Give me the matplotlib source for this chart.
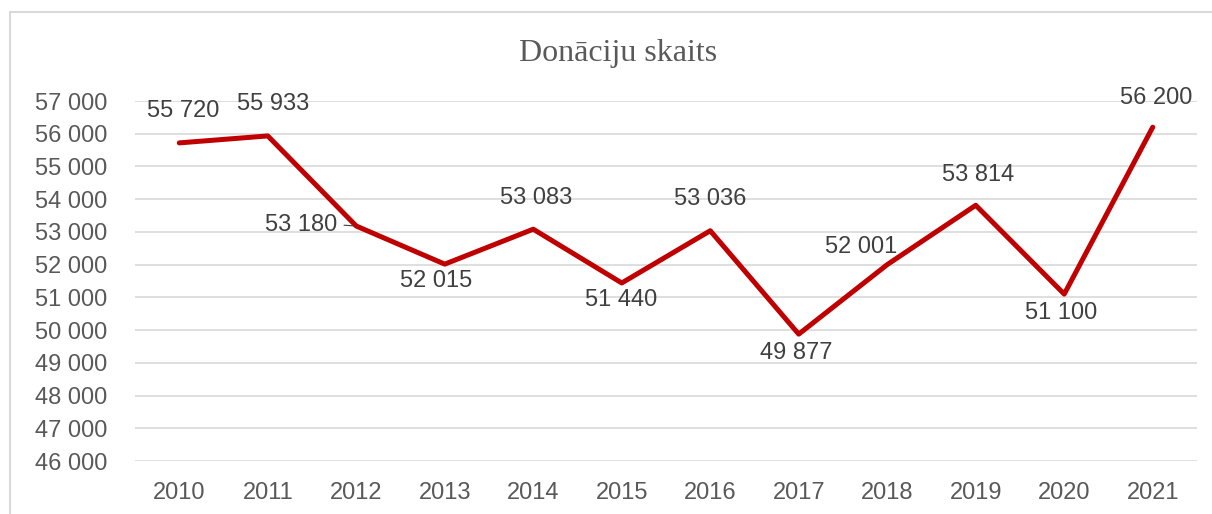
import matplotlib.pyplot as plt
import matplotlib.ticker as mticker
from matplotlib.patches import Rectangle

# data
years = ["2010", "2011", "2012", "2013", "2014", "2015",
         "2016", "2017", "2018", "2019", "2020", "2021"]
donations = [55720, 55933, 53180, 52015, 53083, 51440,
             53036, 49877, 52001, 53814, 51100, 56200]

# label offsets (pixels) from each point
label_offsets = [(4, 32), (5, 32), (-55, 1), (-9, -17), (3, 31), (-1, -17),
                 (0, 32), (-2, -19), (-26, 18), (2, 30), (-3, -19), (3, 29)]

plt.rcParams["font.family"] = ["Liberation Sans", "DejaVu Sans"]

fig = plt.figure(figsize=(12.12, 5.14), dpi=100)
ax = fig.add_axes([0.1114, 0.1031, 0.8762, 0.7004])

# chart area border (only left/top visible in the crop)
fig.patches.append(Rectangle((10 / 1212, -0.1), 1.2, 1 - 12 / 514 + 0.1,
                             transform=fig.transFigure, fill=False,
                             edgecolor="#D9D9D9", linewidth=1.5))

x = range(len(years))
ax.plot(x, donations, color="#C00000", linewidth=3.6, solid_capstyle="round")

for i, v in enumerate(donations):
    ax.annotate(f"{v:,}".replace(",", " "), (i, v), xytext=label_offsets[i],
                textcoords="offset pixels", ha="center", va="center",
                fontsize=17, color="#404040")

# leader line for 2012 label
ax.annotate("", (2, donations[2]), xytext=(-15, 1), textcoords="offset pixels",
            arrowprops=dict(arrowstyle="-", color="#404040", lw=0.8))

ax.set_xlim(-0.5, len(years) - 0.5)
ax.set_ylim(46000, 57000)
ax.set_yticks(range(46000, 57001, 1000))
ax.yaxis.set_major_formatter(mticker.FuncFormatter(lambda v, p: f"{int(v):,}".replace(",", " ")))
ax.set_xticks(list(x))
ax.set_xticklabels(years)

ax.grid(axis="y", color="#D9D9D9", linewidth=1.2)
ax.set_axisbelow(True)
for s in ax.spines.values():
    s.set_visible(False)
ax.tick_params(length=0, labelsize=17, labelcolor="#595959")
ax.tick_params(axis="y", pad=20)
ax.tick_params(axis="x", pad=15)

fig.text(0.51, 0.895, "Donāciju skaits", ha="center", va="center",
         fontsize=23, color="#595959", family=["Liberation Serif", "DejaVu Serif"])

fig.savefig("out.png", dpi=100)
